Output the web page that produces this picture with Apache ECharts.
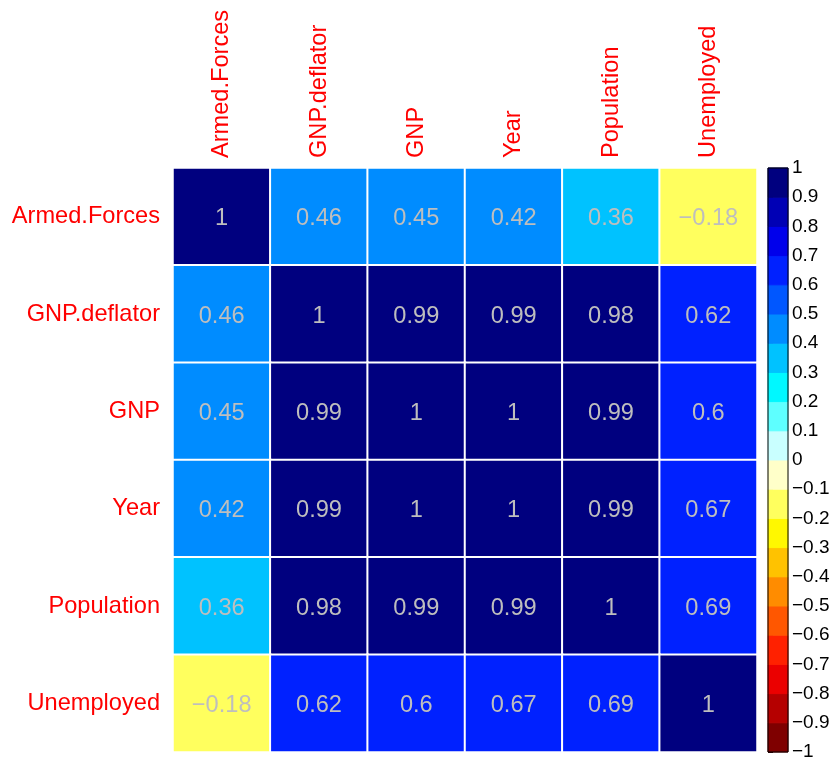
<!DOCTYPE html>
<html>
<head>
<meta charset="utf-8">
<script src="https://cdn.jsdelivr.net/npm/echarts@6/dist/echarts.min.js"></script>
<style>html,body{margin:0;padding:0;background:#fff}#c{width:835px;height:765px}</style>
</head>
<body>
<div id="c"></div>
<script>
const variables = ['Armed.Forces','GNP.deflator','GNP','Year','Population','Unemployed'];
const rowArmedForces = [1, 0.46, 0.45, 0.42, 0.36, -0.18];
const rowGNPdeflator = [0.46, 1, 0.99, 0.99, 0.98, 0.62];
const rowGNP = [0.45, 0.99, 1, 1, 0.99, 0.6];
const rowYear = [0.42, 0.99, 1, 1, 0.99, 0.67];
const rowPopulation = [0.36, 0.98, 0.99, 0.99, 1, 0.69];
const rowUnemployed = [-0.18, 0.62, 0.6, 0.67, 0.69, 1];
const corrRows = [rowArmedForces, rowGNPdeflator, rowGNP, rowYear, rowPopulation, rowUnemployed];
// 20 colour bins from -1 to 1
const palette = ['#7F0000','#B50000','#EB0000','#FF2100','#FF5700','#FF8C00','#FFC200','#FFF800','#FFFF5E','#FFFFC9',
                 '#C9FFFF','#5EFFFF','#00F8FF','#00C2FF','#008CFF','#0057FF','#0021FF','#0000EB','#0000B5','#00007F'];
const colorbarMin = -1, colorbarMax = 1, colorbarStep = 0.1;

const FONT = 'Liberation Sans, Arial, Helvetica, sans-serif';
const fmt = v => { const r = Math.round(v * 100) / 100; return r < 0 ? '\u2212' + Math.abs(r) : String(r); };

const heatData = [];
corrRows.forEach((row, r) => row.forEach((v, c) => heatData.push([c, r, v])));

const bins = palette.map((col, i) => {
  const lo = Math.round((colorbarMin + colorbarStep * i) * 10) / 10;
  const hi = Math.round((colorbarMin + colorbarStep * (i + 1)) * 10) / 10;
  return { lo, hi, col };
});
const pieces = bins.map((b, i) => i === bins.length - 1 ? { gte: b.lo, lte: b.hi, color: b.col } : { gte: b.lo, lt: b.hi, color: b.col });

const chart = echarts.init(document.getElementById('c'), null, { renderer: 'canvas' });
chart.setOption({
  backgroundColor: '#fff',
  animation: false,
  textStyle: { fontFamily: FONT },
  grid: [
    { left: 173, top: 168, width: 584, height: 584 },
    { left: 768, top: 168, width: 20, height: 584, show: true, borderColor: '#000', borderWidth: 1, backgroundColor: 'transparent', z: 5 }
  ],
  xAxis: [
    { type: 'category', gridIndex: 0, data: variables, position: 'top',
      axisLine: { show: false }, axisTick: { show: false }, splitLine: { show: false },
      axisLabel: { rotate: -90, color: '#FF0000', fontSize: 23.6, margin: 10, fontFamily: FONT, interval: 0 } },
    { type: 'value', gridIndex: 1, min: 0, max: 1, show: false }
  ],
  yAxis: [
    { type: 'category', gridIndex: 0, data: variables, inverse: true,
      axisLine: { show: false }, axisTick: { show: false }, splitLine: { show: false },
      axisLabel: { color: '#FF0000', fontSize: 23.6, margin: 13, fontFamily: FONT, interval: 0 } },
    { type: 'value', gridIndex: 1, min: colorbarMin, max: colorbarMax, interval: colorbarStep, position: 'right',
      axisLine: { show: false }, splitLine: { show: false },
      axisTick: { show: true, length: 5, lineStyle: { color: '#000', width: 1 } },
      axisLabel: { color: '#000', fontSize: 19, margin: 4, fontFamily: FONT,
        formatter: v => { const r = Math.round(v * 10) / 10; return r < 0 ? '\u2212' + Math.abs(r) : String(r); } } }
  ],
  visualMap: {
    show: false, type: 'piecewise', seriesIndex: 0, dimension: 2, pieces: pieces
  },
  series: [
    { type: 'heatmap', xAxisIndex: 0, yAxisIndex: 0, data: heatData,
      itemStyle: { borderColor: '#fff', borderWidth: 2 },
      label: { show: true, color: '#BEBEBE', fontSize: 23.6, fontFamily: FONT, offset: [0, 2], formatter: p => fmt(p.value[2]) },
      emphasis: { disabled: true } },
    { type: 'custom', xAxisIndex: 1, yAxisIndex: 1, silent: true,
      data: bins.map((b, i) => [b.lo, b.hi, i]),
      renderItem: (params, api) => {
        const p0 = api.coord([0, api.value(0)]);
        const p1 = api.coord([1, api.value(1)]);
        const c = palette[api.value(2)];
        return { type: 'rect', shape: { x: p0[0], y: p1[1], width: p1[0] - p0[0], height: p0[1] - p1[1] },
                 style: { fill: c, stroke: c, lineWidth: 1 } };
      } }
  ]
});
</script>
</body>
</html>
